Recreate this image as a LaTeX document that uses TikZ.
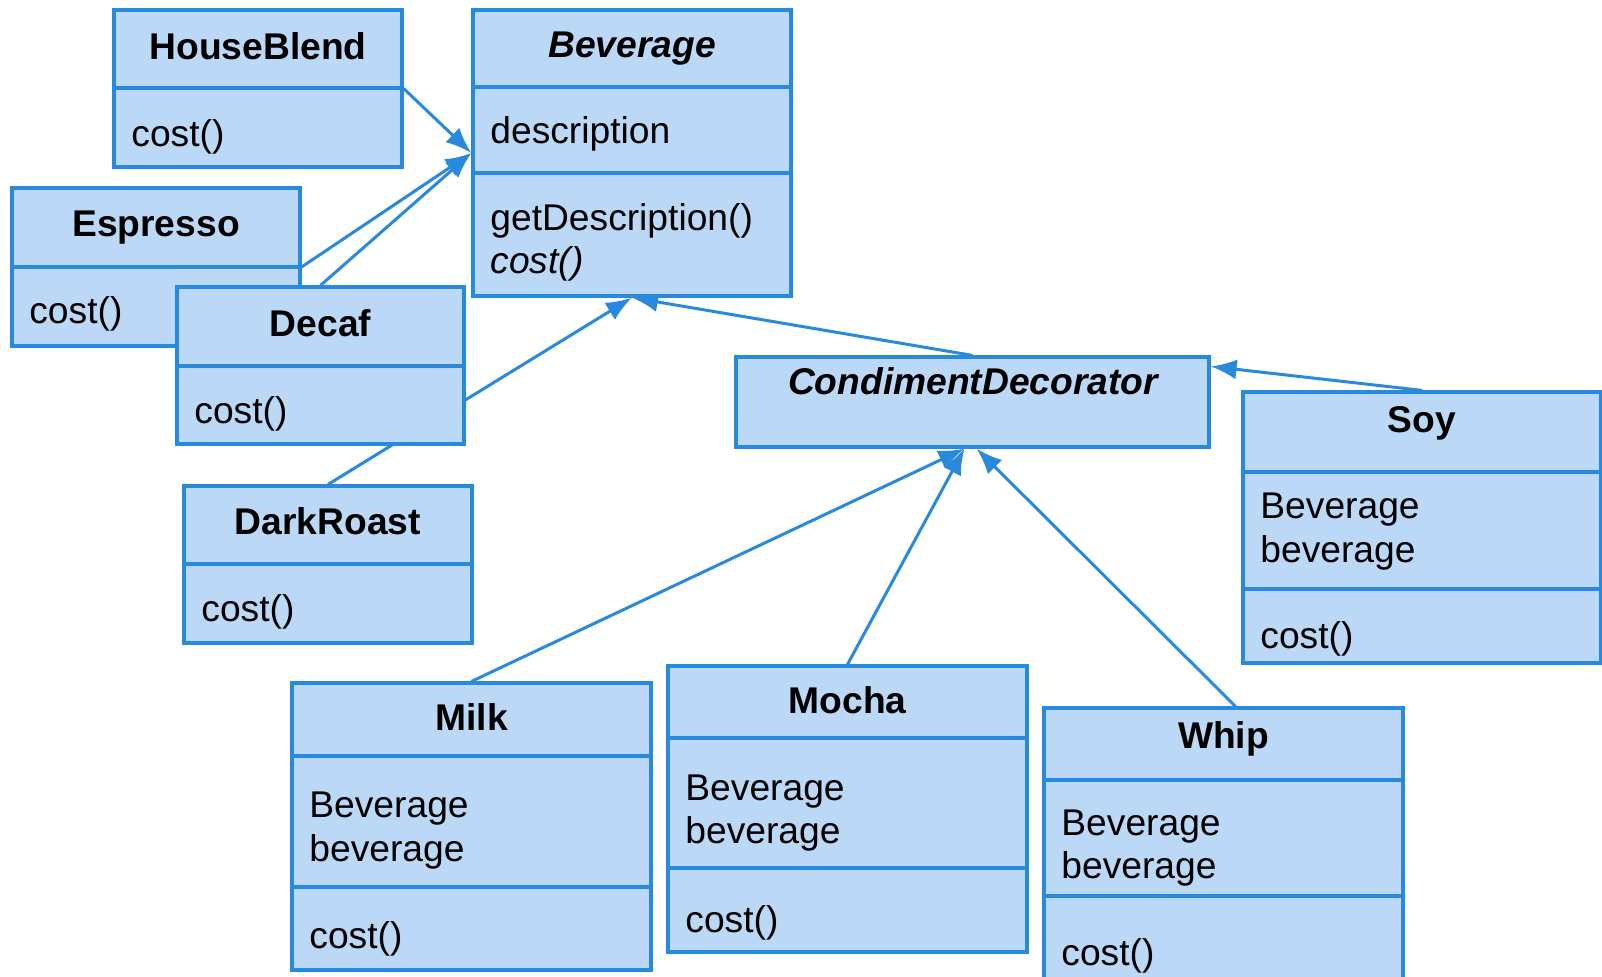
\documentclass[tikz,border=0pt]{standalone}
\usepackage{fontspec}
\setmainfont{Liberation Sans}
\usetikzlibrary{arrows.meta,fit,backgrounds}
\definecolor{umlfill}{RGB}{187,216,247}
\definecolor{umlline}{RGB}{41,137,221}

\begin{document}
\begin{tikzpicture}[x=0.5pt,y=-0.5pt,
		classbox/.style={draw=umlline, fill=umlfill, line width=1.6pt, inner sep=0pt},
		classname/.style={font=\fontsize{18.6}{21.5}\selectfont\bfseries, anchor=base, inner sep=0pt},
		member/.style={font=\fontsize{18.6}{21.5}\selectfont, anchor=base west, inner sep=0pt},
		divider/.style={draw=umlline, line width=1.6pt},
		inherit/.style={draw=umlline, line width=1.5pt, -{Latex[length=13pt,width=10pt]}}]

		\path[use as bounding box] (0,0) rectangle (1602,976);

		% class boxes
		\node[classbox, fit={(114,10) (402,167)}] (hb) {};
		\node[classbox, fit={(473,10) (791,296)}] (bev) {};
		\node[classbox, fit={(12,188) (300,346)}] (esp) {};
		\node[classbox, fit={(177,287) (464,444)}] (dec) {};
		\node[classbox, fit={(184,486) (472,643)}] (dr) {};
		\node[classbox, fit={(736,357) (1209,447)}] (cd) {};
		\node[classbox, fit={(1243,392) (1601,663)}] (soy) {};
		\node[classbox, fit={(292,683) (651,970)}] (milk) {};
		\node[classbox, fit={(668,666) (1027,952)}] (mocha) {};
		\node[classbox, fit={(1044,708) (1403,1010)}] (whip) {};

		\foreach \xa/\xb/\y in {114/402/88, 473/791/87, 473/791/173, 12/300/267, 177/464/366, 184/472/564,
				1243/1601/472, 1243/1601/589, 292/651/756, 292/651/887, 668/1027/738, 668/1027/868,
				1044/1403/780, 1044/1403/896}{
				\draw[divider] (\xa,\y) -- (\xb,\y);
			}

		% names
		\foreach \nm/\x/\y/\txt in {hbname/258/59/HouseBlend, espname/156/236/Espresso, decname/320.5/336/Decaf,
				drname/328/534/DarkRoast, soyname/1422/432/Soy, milkname/471.5/730/Milk,
				mochaname/847.5/713/Mocha, whipname/1223.5/748/Whip}{
				\node[classname] (\nm) at (\x,\y) {\txt};
			}
		\node[classname, font=\fontsize{18.6}{21.5}\selectfont\bfseries\itshape] (bevname) at (632,57) {Beverage};
		\node[classname, font=\fontsize{18.6}{21.5}\selectfont\bfseries\itshape] (cdname) at (973,394) {CondimentDecorator};

		% members
		\foreach \nm/\x/\y/\txt in {hbcost/131/146/cost(), espcost/29/323/cost(), deccost/194/423/cost(),
				drcost/201/621/cost(), bevdesc/490/143/description, bevget/490/230/getDescription(),
				bevcost/490/273/{\itshape cost()},
				soyattr/1260/518/Beverage, soyattrb/1260/562/beverage, soycost/1260/648/cost(),
				milkattr/309/817/Beverage, milkattrb/309/861/beverage, milkcost/309/948/cost(),
				mochaattr/685/800/Beverage, mochaattrb/685/843/beverage, mochacost/685/932/cost(),
				whipattr/1061/835/Beverage, whipattrb/1061/878/beverage, whipcost/1061/965/cost()}{
				\node[member] (\nm) at (\x,\y) {\txt};
			}

		\coordinate (cdsoy) at ([yshift=-5.5pt]cd.north east);

		% inheritance
		\begin{scope}[on background layer]
			\draw[inherit] (hb.east) -- (bev.west);
			\draw[inherit] (esp.east) -- (bev.west);
			\draw[inherit] (dec.north) -- (bev.west);
			\draw[inherit] (dr.north) -- (bev.south);
			\draw[inherit] (cd.north) -- (bev.south);
			\draw[inherit] (soy.north) -- (cdsoy);
			\draw[inherit] (milk.north) -- ([xshift=-4pt]cd.south);
			\draw[inherit] (mocha.north) -- ([xshift=-4pt]cd.south);
			\draw[inherit] ([xshift=6pt]whip.north) -- ([xshift=2pt]cd.south);
		\end{scope}

	\end{tikzpicture}
\end{document}
